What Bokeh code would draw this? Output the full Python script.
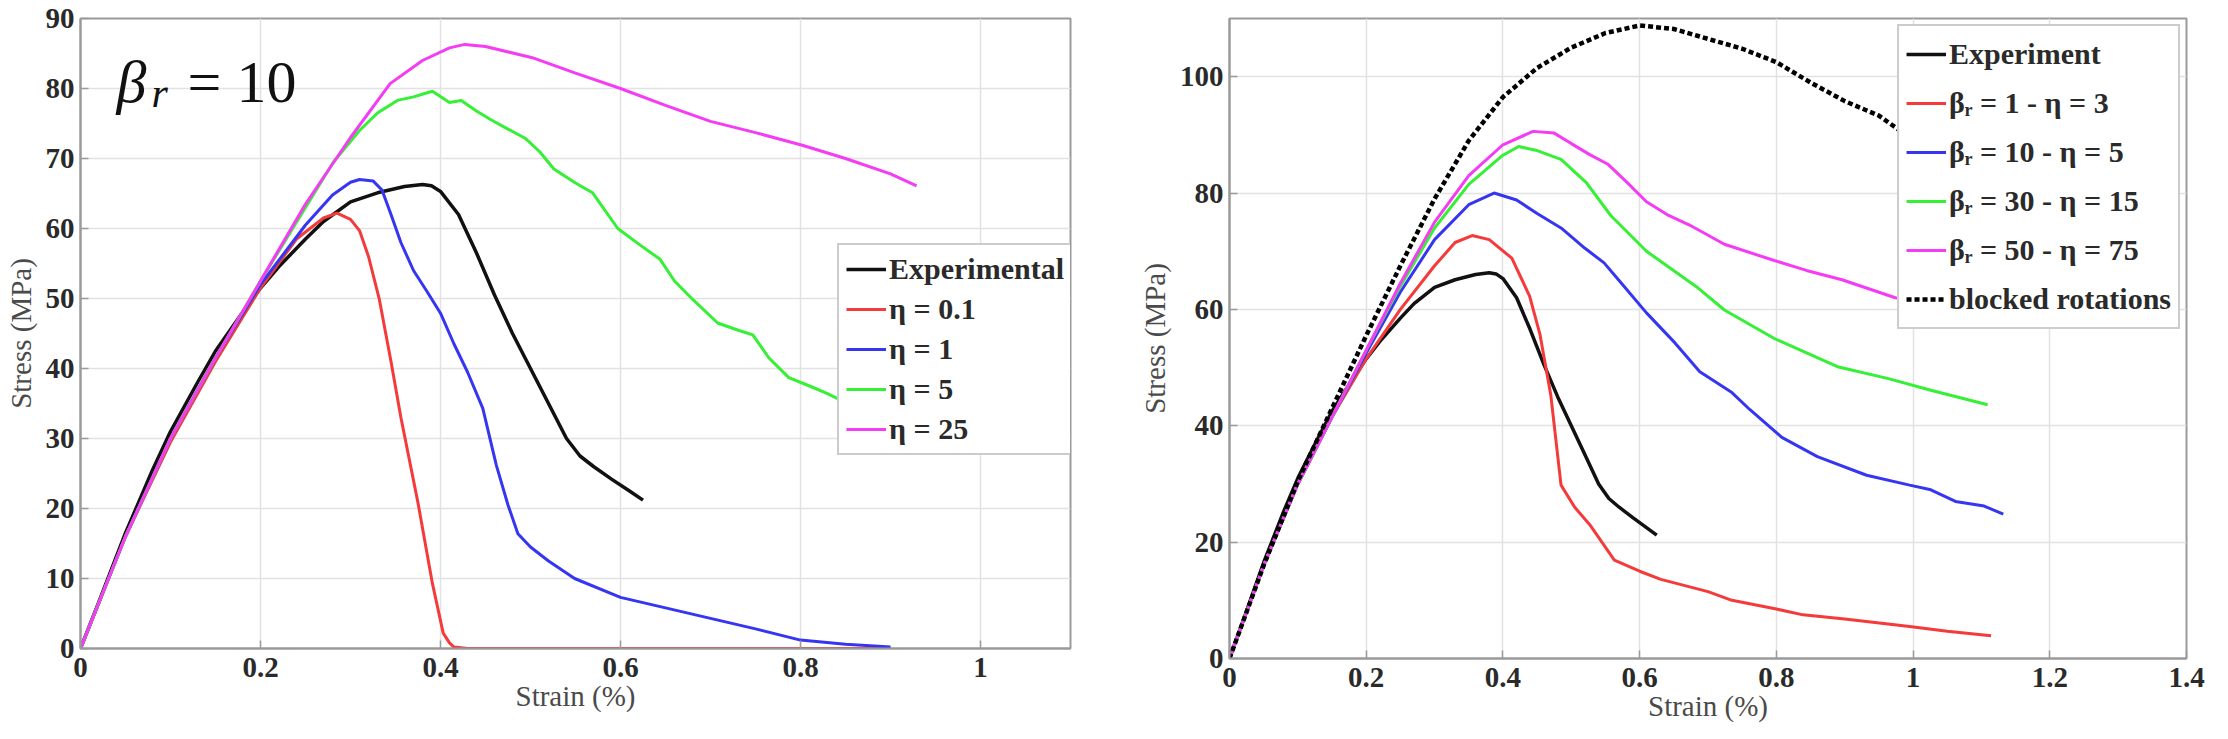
from bokeh.plotting import figure
from bokeh.layouts import row
from bokeh.models import Label, FixedTicker, NumeralTickFormatter, Range1d
from bokeh.embed import file_html
from bokeh.resources import INLINE

# ---------------- data ----------------
exp_x = [0, 0.02, 0.05, 0.08, 0.1, 0.13, 0.15, 0.18, 0.2, 0.22, 0.25, 0.27, 0.3, 0.33, 0.36, 0.38,
         0.39, 0.40, 0.42, 0.44, 0.46, 0.48, 0.50, 0.52, 0.54, 0.555, 0.57, 0.59, 0.61, 0.625]
exp_y = [0, 6.5, 16.5, 25.5, 31, 38, 42.5, 48, 51.5, 54.5, 58.5, 61, 63.8, 65.1, 66, 66.3,
         66.1, 65.3, 62, 56.5, 50.5, 45, 40, 35, 30, 27.5, 26, 24.2, 22.5, 21.2]

# left chart (beta_r = 10)
eta01_x = [0, 0.05, 0.1, 0.15, 0.2, 0.24, 0.27, 0.285, 0.30, 0.31, 0.32, 0.332, 0.345, 0.356,
           0.375, 0.391, 0.403, 0.41, 0.415, 0.43, 0.9]
eta01_y = [0, 16, 29.5, 41, 51.5, 58.5, 61.5, 62.2, 61.3, 59.7, 56, 49.9, 41, 33,
           20.8, 9.3, 2.2, 0.8, 0.2, 0, 0]
eta1_x = [0, 0.05, 0.1, 0.15, 0.2, 0.25, 0.28, 0.30, 0.31, 0.325, 0.335, 0.345, 0.356, 0.37, 0.385,
          0.40, 0.415, 0.43, 0.447, 0.462, 0.475, 0.486, 0.5, 0.52, 0.549, 0.6, 0.65, 0.7, 0.75,
          0.8, 0.85, 0.9]
eta1_y = [0, 16, 30, 41.5, 52, 60.5, 64.8, 66.6, 67, 66.8, 65.5, 62, 58, 54, 51,
          47.9, 43.5, 39.5, 34.3, 26.2, 20.5, 16.4, 14.5, 12.5, 10, 7.3, 5.8, 4.3, 2.8,
          1.2, 0.6, 0.2]
eta5_x = [0, 0.05, 0.1, 0.15, 0.2, 0.25, 0.281, 0.31, 0.33, 0.352, 0.37, 0.391, 0.41, 0.423, 0.44,
          0.455, 0.475, 0.494, 0.51, 0.526, 0.55, 0.569, 0.597, 0.62, 0.644, 0.66, 0.68, 0.708,
          0.73, 0.747, 0.765, 0.787, 0.81, 0.83, 0.86]
eta5_y = [0, 16, 30, 41.5, 52.5, 63, 69.5, 74, 76.5, 78.3, 78.8, 79.6, 78, 78.3, 76.8,
          75.6, 74.2, 72.9, 71, 68.5, 66.5, 65.1, 60, 57.8, 55.6, 52.5, 49.9, 46.5,
          45.5, 44.8, 41.5, 38.7, 37.5, 36.4, 34.5]
eta25_x = [0, 0.05, 0.1, 0.15, 0.2, 0.25, 0.3, 0.344, 0.38, 0.41, 0.427, 0.45, 0.502, 0.55, 0.6,
           0.65, 0.7, 0.75, 0.802, 0.85, 0.9, 0.929]
eta25_y = [0, 16, 30, 41.5, 52.5, 63.5, 73, 80.7, 84, 85.8, 86.3, 86, 84.4, 82.2, 80,
           77.6, 75.3, 73.7, 71.9, 70, 67.8, 66.1]

# right chart
b1_x = [0, 0.05, 0.1, 0.15, 0.2, 0.25, 0.3, 0.33, 0.355, 0.38, 0.413, 0.439, 0.454, 0.47, 0.485,
        0.505, 0.527, 0.563, 0.6, 0.631, 0.7, 0.735, 0.8, 0.839, 0.9, 0.995, 1.05, 1.114]
b1_y = [0, 16, 30, 41.5, 51.5, 60, 67.5, 71.5, 72.7, 72, 68.8, 62.3, 55.8, 45.3, 29.8,
        26, 23, 16.9, 15, 13.6, 11.5, 10, 8.5, 7.5, 6.8, 5.5, 4.7, 3.9]
b10_x = [0, 0.05, 0.1, 0.15, 0.2, 0.25, 0.3, 0.35, 0.387, 0.42, 0.45, 0.485, 0.52, 0.548, 0.569,
         0.61, 0.652, 0.688, 0.735, 0.761, 0.808, 0.86, 0.932, 0.995, 1.026, 1.062, 1.104, 1.132]
b10_y = [0, 16, 30, 41.5, 52.5, 63, 72, 78, 80, 78.8, 76.5, 74, 70.5, 68, 65.1,
         59.4, 54.2, 49.3, 45.7, 42.8, 38, 34.7, 31.5, 29.8, 29, 27, 26.2, 24.8]
b30_x = [0, 0.05, 0.1, 0.15, 0.2, 0.25, 0.3, 0.35, 0.4, 0.423, 0.45, 0.485, 0.522, 0.558, 0.61,
         0.683, 0.724, 0.797, 0.891, 0.964, 1.026, 1.109]
b30_y = [0, 16, 30, 41.5, 53, 64, 74, 81.5, 86.5, 88, 87.3, 85.8, 81.8, 76.1, 70,
         63.9, 59.9, 55, 50.1, 48.1, 46.1, 43.6]
b50_x = [0, 0.05, 0.1, 0.15, 0.2, 0.25, 0.3, 0.35, 0.4, 0.444, 0.475, 0.5, 0.527, 0.553, 0.58,
         0.61, 0.64, 0.673, 0.724, 0.797, 0.844, 0.896, 0.974, 1.05, 1.11]
b50_y = [0, 16, 30, 41.5, 53, 64.5, 75, 83, 88.3, 90.6, 90.3, 88.5, 86.6, 85, 82,
         78.5, 76.3, 74.5, 71.2, 68.4, 66.7, 65.1, 62, 60.5, 59.5]
blk_x = [0, 0.05, 0.1, 0.15, 0.2, 0.25, 0.3, 0.35, 0.4, 0.45, 0.5, 0.55, 0.6, 0.65, 0.7, 0.75,
         0.8, 0.85, 0.9, 0.95, 0.98, 1.05, 1.11]
blk_y = [0, 16, 30.5, 43, 55.5, 67.5, 79, 89, 96.5, 101.5, 105, 107.5, 108.8, 108.2, 106.5, 104.8,
         102.5, 99, 95.8, 93.3, 90.8, 86, 82]

left_xticks = [0, 0.2, 0.4, 0.6, 0.8, 1]
left_yticks = [0, 10, 20, 30, 40, 50, 60, 70, 80, 90]
right_xticks = [0, 0.2, 0.4, 0.6, 0.8, 1, 1.2, 1.4]
right_yticks = [0, 20, 40, 60, 80, 100]

left_labels = ["Experimental", "η = 0.1", "η = 1", "η = 5", "η = 25"]
right_labels = ["Experiment", "βᵣ = 1 - η = 3", "βᵣ = 10 - η = 5", "βᵣ = 30 - η = 15",
                "βᵣ = 50 - η = 75", "blocked rotations"]

BLACK = "#111111"
RED = "#f43a3a"
BLUE = "#3535f2"
GREEN = "#35f035"
MAG = "#f53cf5"
FONT = "Liberation Serif"
GRAY = "#9a9a9a"


def style(p, xticks, yticks):
    p.xaxis.ticker = FixedTicker(ticks=xticks)
    p.yaxis.ticker = FixedTicker(ticks=yticks)
    p.xgrid.ticker = FixedTicker(ticks=xticks)
    p.ygrid.ticker = FixedTicker(ticks=yticks)
    for ax in p.axis:
        ax.formatter = NumeralTickFormatter(format="0.[0]")
        ax.major_label_text_font = FONT
        ax.major_label_text_font_size = "29px"
        ax.major_label_text_font_style = "bold"
        ax.major_label_text_color = "#2a2a2a"
        ax.axis_label_text_font = FONT
        ax.axis_label_text_font_size = "29px"
        ax.axis_label_text_font_style = "normal"
        ax.axis_label_text_color = "#4a4a4a"
        ax.axis_line_color = GRAY
        ax.axis_line_width = 2
        ax.major_tick_line_color = GRAY
        ax.major_tick_line_width = 1.5
        ax.major_tick_in = 8
        ax.major_tick_out = 0
        ax.minor_tick_line_color = None
    p.xaxis.major_label_standoff = 9
    p.yaxis.major_label_standoff = 6
    p.xaxis.axis_label_standoff = 0
    p.yaxis.axis_label_standoff = 6
    for g in (p.xgrid, p.ygrid):
        g.grid_line_color = "#e2e2e2"
        g.grid_line_width = 1.5
    p.outline_line_color = GRAY
    p.outline_line_width = 2


def style_legend(lg):
    lg.label_text_font = FONT
    lg.label_text_font_size = "30px"
    lg.label_text_font_style = "bold"
    lg.label_text_color = "#2a2a2a"
    lg.glyph_width = 40
    lg.label_standoff = 3
    lg.border_line_color = GRAY
    lg.border_line_width = 2
    lg.background_fill_color = "white"
    lg.background_fill_alpha = 1
    lg.padding = 7
    lg.click_policy = "none"


# ---------------- left figure ----------------
p1 = figure(frame_width=990, frame_height=630, min_border_left=80, min_border_right=42,
            min_border_top=18, min_border_bottom=75,
            x_range=Range1d(0, 1.1), y_range=Range1d(0, 90),
            output_backend="svg", toolbar_location=None,
            x_axis_label="Strain (%)", y_axis_label="Stress (MPa)")
style(p1, left_xticks, left_yticks)

LW = 3
p1.line(exp_x, exp_y, color=BLACK, line_width=3.5, legend_label=left_labels[0])
p1.line(eta01_x, eta01_y, color=RED, line_width=LW, legend_label=left_labels[1])
p1.line(eta1_x, eta1_y, color=BLUE, line_width=LW, legend_label=left_labels[2])
p1.line(eta5_x, eta5_y, color=GREEN, line_width=LW, legend_label=left_labels[3])
p1.line(eta25_x, eta25_y, color=MAG, line_width=LW, legend_label=left_labels[4])

style_legend(p1.legend[0])
p1.legend[0].location = (757, 193)
p1.legend[0].label_height = 34
p1.legend[0].glyph_height = 34
p1.legend[0].spacing = 6

p1.add_layout(Label(x=0.04, y=80.9, text="β", text_font=FONT, text_font_size="60px",
                    text_font_style="italic", text_color="#111111",
                    text_baseline="alphabetic"))
p1.add_layout(Label(x=0.079, y=79.4, text="r", text_font=FONT, text_font_size="42px",
                    text_font_style="italic", text_color="#111111",
                    text_baseline="alphabetic"))
p1.add_layout(Label(x=0.119, y=80.9, text="= 10", text_font=FONT, text_font_size="60px",
                    text_color="#111111", text_baseline="alphabetic"))

# ---------------- right figure ----------------
p2 = figure(frame_width=957, frame_height=640, min_border_left=117, min_border_right=26,
            min_border_top=7, min_border_bottom=76,
            x_range=Range1d(0, 1.4), y_range=Range1d(0, 110),
            output_backend="svg", toolbar_location=None,
            x_axis_label="Strain (%)", y_axis_label="Stress (MPa)")
style(p2, right_xticks, right_yticks)

p2.line(exp_x, exp_y, color=BLACK, line_width=3.5, legend_label=right_labels[0])
p2.line(b1_x, b1_y, color=RED, line_width=LW, legend_label=right_labels[1])
p2.line(b10_x, b10_y, color=BLUE, line_width=LW, legend_label=right_labels[2])
p2.line(b30_x, b30_y, color=GREEN, line_width=LW, legend_label=right_labels[3])
p2.line(b50_x, b50_y, color=MAG, line_width=LW, legend_label=right_labels[4])
p2.line(blk_x, blk_y, color="#000000", line_width=4.5, line_dash="5 3",
        legend_label=right_labels[5])

style_legend(p2.legend[0])
p2.legend[0].location = "top_right"
p2.legend[0].margin = 6
p2.legend[0].label_height = 42
p2.legend[0].glyph_height = 42
p2.legend[0].spacing = 7

layout = row(p1, p2, spacing=0)
open("out.html", "w").write(file_html(layout, INLINE))
